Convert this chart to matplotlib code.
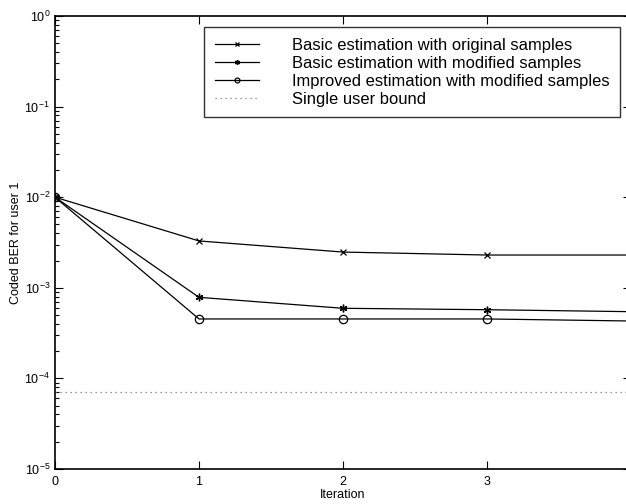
import matplotlib
matplotlib.use("Agg")
import matplotlib.pyplot as plt
from matplotlib.ticker import LogLocator, NullFormatter

plt.rcParams['font.family'] = ['Liberation Sans', 'DejaVu Sans']
plt.rcParams['mathtext.fontset'] = 'custom'
plt.rcParams['mathtext.rm'] = 'Liberation Sans'

iterations = [0, 1, 2, 3, 4]
basic_original = [1.0e-2, 3.29e-3, 2.48e-3, 2.30e-3, 2.30e-3]
basic_modified = [1.0e-2, 7.85e-4, 5.94e-4, 5.73e-4, 5.45e-4]
improved_modified = [1.0e-2, 4.53e-4, 4.53e-4, 4.53e-4, 4.30e-4]
single_user_bound = [7.13e-5, 7.13e-5, 7.13e-5, 7.13e-5, 7.13e-5]
labels = ["Basic estimation with original samples",
          "Basic estimation with modified samples",
          "Improved estimation with modified samples",
          "Single user bound"]
xticks = [0, 1, 2, 3]

fig = plt.figure(figsize=(6.26, 5.04), dpi=100)
ax_left, ax_right, ax_top, ax_bot = 55, 631, 16, 469
ax = fig.add_axes([ax_left/626, 1 - ax_bot/504, (ax_right - ax_left)/626, (ax_bot - ax_top)/504])

ax.plot(iterations, basic_original, color='black', lw=0.9, marker='x', ms=4, mew=0.9, label=labels[0])
ax.plot(iterations, basic_modified, color='black', lw=0.9, marker=(6, 2, 0), ms=5.5, mew=1.0, label=labels[1])
ax.plot(iterations, improved_modified, color='black', lw=0.9, marker='o', ms=6, mfc='none', mew=0.9, label=labels[2])
ax.plot(iterations, single_user_bound, color='#777777', lw=0.9, ls=(0, (1, 3)), label=labels[3])

ax.set_yscale('log')
ax.set_xlim(0, 4)
ax.set_ylim(1e-5, 1e0)
ax.set_xticks(xticks)
ax.set_xticklabels([str(t) for t in xticks])
ax.yaxis.set_major_locator(LogLocator(base=10, numticks=10))
ax.yaxis.set_minor_locator(LogLocator(base=10, subs=range(2, 10), numticks=20))
ax.yaxis.set_minor_formatter(NullFormatter())
ax.tick_params(which='both', direction='in', top=True, right=True, labelsize=9, width=0.8)
ax.tick_params(which='major', length=6)
ax.tick_params(which='minor', length=3)
ax.tick_params(axis='x', pad=5)
for s in ax.spines.values():
    s.set_linewidth(1.2)

ax.set_xlabel('Iteration', fontsize=9, labelpad=1)
ax.set_ylabel('Coded BER for user 1', fontsize=9, labelpad=2)

leg = ax.legend(loc='upper left', bbox_to_anchor=((204 - ax_left)/(ax_right - ax_left), 1 - (27 - ax_top)/(ax_bot - ax_top)),
                fontsize=11.9, frameon=True, fancybox=False, edgecolor='black',
                handlelength=2.7, handletextpad=2.0, borderpad=0.64, labelspacing=0.18,
                borderaxespad=0)
leg.get_frame().set_linewidth(1.0)
for h in leg.legend_handles:
    h.set_markersize(3.5)

fig.savefig('out.png', dpi=100)
